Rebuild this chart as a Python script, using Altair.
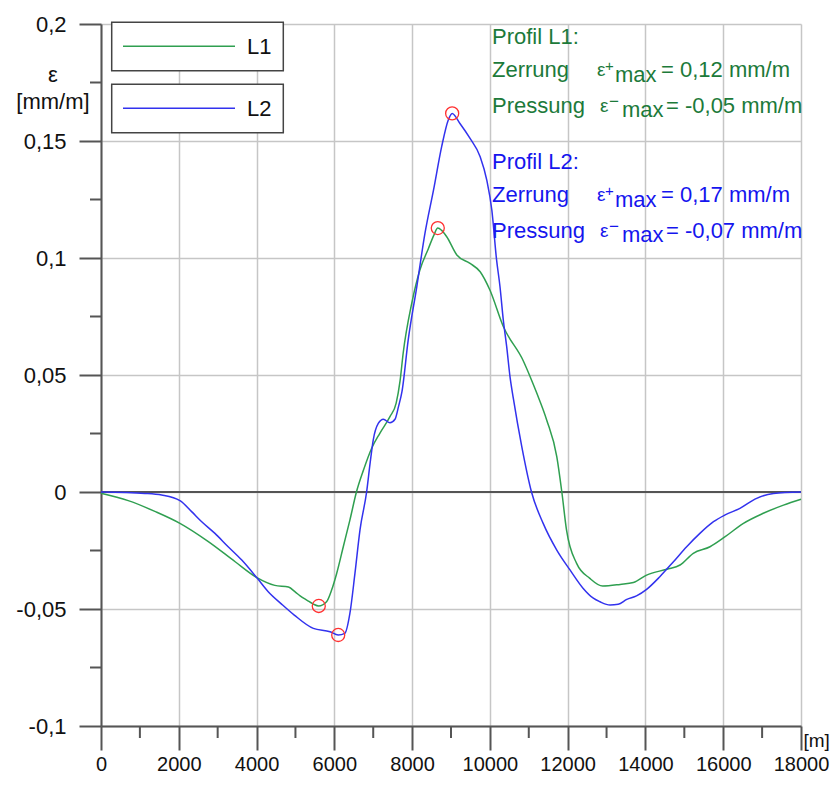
import altair as alt
import pandas as pd

# ---------------- data ----------------
series_names = ["L1", "L2"]

l1_x = [0, 700, 1400, 2030, 2760, 3450, 4020, 4470, 4820, 5000, 5120, 5300, 5460, 5600,
        5800, 5930, 6060, 6230, 6400, 6570, 6750, 6960, 7170, 7430, 7590, 7690, 7770,
        7990, 8200, 8420, 8560, 8660, 8760, 8890, 9150, 9490, 9750, 10000, 10345, 10860,
        11030, 11200, 11460, 11720, 11850, 11970, 12230, 12570, 12900, 13350, 13690,
        14030, 14550, 14890, 15230, 15660, 16050, 16520, 17030, 17550, 18000]
l1_y = [-0.0005, -0.0037, -0.0084, -0.0134, -0.0212, -0.0298, -0.0367, -0.0399, -0.0406,
        -0.0428, -0.0444, -0.0463, -0.0479, -0.0487, -0.0469, -0.0419, -0.0348, -0.0234,
        -0.0120, 0.0001, 0.0094, 0.0187, 0.0251, 0.0322, 0.0380, 0.0475, 0.0593, 0.0806,
        0.0949, 0.1041, 0.1098, 0.1128, 0.1118, 0.1091, 0.1013, 0.0977, 0.0941, 0.0863,
        0.0707, 0.0560, 0.0495, 0.0425, 0.0308, 0.0151, 0.0, -0.0162, -0.0305, -0.0369,
        -0.0402, -0.0395, -0.0387, -0.0355, -0.0330, -0.0312, -0.0262, -0.0234, -0.0191,
        -0.0134, -0.0091, -0.0056, -0.0031]

l2_x = [0, 1130, 1560, 2030, 2330, 2590, 2930, 3270, 3620, 4020, 4300, 4650, 4970, 5460,
        5890, 6100, 6270, 6400, 6530, 6660, 6830, 6920, 7000, 7130, 7260, 7430, 7560, 7650,
        7740, 7900, 8120, 8330, 8550, 8760, 8930, 9030, 9230, 9490, 9750, 9920, 10050,
        10170, 10260, 10345, 10432, 10517, 10603, 10820, 11070, 11370, 11720, 12060, 12400,
        12660, 12830, 13090, 13300, 13520, 13770, 14030, 14370, 14720, 15060, 15400, 15750,
        16050, 16430, 16860, 17290, 18000]
l2_y = [0.0, -0.0006, -0.0013, -0.0037, -0.0084, -0.0127, -0.0177, -0.0234, -0.0291,
        -0.0369, -0.0426, -0.0480, -0.0526, -0.0583, -0.0597, -0.0611, -0.0604, -0.0519,
        -0.0348, -0.0162, 0.0, 0.0123, 0.0222, 0.0293, 0.0311, 0.0296, 0.0311, 0.0365,
        0.0430, 0.0650, 0.0877, 0.1105, 0.1290, 0.1476, 0.1590, 0.1618, 0.1575, 0.1511,
        0.1433, 0.1333, 0.1205, 0.0995, 0.0877, 0.0735, 0.0621, 0.0493, 0.0400, 0.0194,
        0.0, -0.0134, -0.0248, -0.0333, -0.0412, -0.0454, -0.0469, -0.0483, -0.0480,
        -0.0459, -0.0444, -0.0416, -0.0362, -0.0298, -0.0234, -0.0177, -0.0127, -0.0098,
        -0.0070, -0.0027, -0.0006, 0.0]

x_ticks = [0, 2000, 4000, 6000, 8000, 10000, 12000, 14000, 16000, 18000]
x_minor = [1000, 3000, 5000, 7000, 9000, 11000, 13000, 15000, 17000]
y_ticks = [-0.1, -0.05, 0, 0.05, 0.1, 0.15, 0.2]
y_minor = [-0.075, -0.025, 0.025, 0.075, 0.125, 0.175]

zerrung_text = ["0,12", "0,17"]
pressung_text = ["-0,05", "-0,07"]
y_title = ["ε", "[mm/m]"]
x_title = "[m]"

# ---------------- styles ----------------
FONT = "Liberation Sans"
LINE_COLORS = ["#2f9f50", "#3232ee"]
TEXT_COLORS = ["#1c7a3a", "#1515ee"]
AXIS_COLOR = "#555555"
GRID_COLOR = "#c6c6c6"

df = pd.concat([
    pd.DataFrame({"x": l1_x, "y": l1_y, "profil": series_names[0]}),
    pd.DataFrame({"x": l2_x, "y": l2_y, "profil": series_names[1]}),
], ignore_index=True)

ext_rows = []
for name in series_names:
    sub = df[df["profil"] == name]
    ext_rows.append(sub.loc[sub["y"].idxmin()])
    ext_rows.append(sub.loc[sub["y"].idxmax()])
ext = pd.DataFrame(ext_rows)[["x", "y", "profil"]]

xscale = alt.Scale(domain=[0, 18000], nice=False, zero=False)
yscale = alt.Scale(domain=[-0.1, 0.2], nice=False, zero=False)

xaxis = alt.Axis(
    values=x_ticks, format="d", grid=True, gridColor=GRID_COLOR, gridWidth=1.5,
    domainColor=AXIS_COLOR, domainWidth=2, tickColor=AXIS_COLOR, tickWidth=2, tickSize=24,
    labelFont=FONT, labelFontSize=20, labelColor="#111111", labelPadding=20,
    labelBaseline="alphabetic",
    labelFlush=False, labelOverlap=False, labelBound=False,
    title=x_title, titleX=702, titleY=14, titleAlign="left", titleBaseline="middle",
    titleFont=FONT, titleFontSize=19, titleFontWeight="normal", titleColor="#111111",
)
yaxis = alt.Axis(
    values=y_ticks, grid=True, gridColor=GRID_COLOR, gridWidth=1.5,
    labelExpr="(datum.value < 0 ? '-' : '') + replace(format(abs(datum.value), '.2~f'), '.', ',')",
    domainColor=AXIS_COLOR, domainWidth=2, tickColor=AXIS_COLOR, tickWidth=2, tickSize=22,
    labelFont=FONT, labelFontSize=22, labelColor="#111111", labelPadding=13,
    labelFlush=False, labelOverlap=False, labelBound=False, title="",
)

one = pd.DataFrame({"a": [0]})

zero_rule = alt.Chart(pd.DataFrame({"y": [0]})).mark_rule(color=AXIS_COLOR, strokeWidth=2).encode(
    y=alt.Y("y:Q", scale=yscale, axis=yaxis)
)

x_minor_ticks = alt.Chart(pd.DataFrame({"x": x_minor})).mark_rule(color=AXIS_COLOR, strokeWidth=2).encode(
    x=alt.X("x:Q", scale=xscale, axis=xaxis), y=alt.value(702), y2=alt.value(714)
)
y_minor_ticks = alt.Chart(pd.DataFrame({"y": y_minor})).mark_rule(color=AXIS_COLOR, strokeWidth=2).encode(
    y=alt.Y("y:Q", scale=yscale, axis=yaxis), x=alt.value(-11), x2=alt.value(0)
)

lines = alt.Chart(df).mark_line(interpolate="monotone", strokeWidth=1.5).encode(
    x=alt.X("x:Q", scale=xscale, axis=xaxis),
    y=alt.Y("y:Q", scale=yscale, axis=yaxis),
    color=alt.Color("profil:N", scale=alt.Scale(domain=series_names, range=LINE_COLORS), legend=None),
)

circles = alt.Chart(ext).mark_point(shape="circle", size=170, filled=False, color="#ff3030",
                                    strokeWidth=1.3, opacity=1).encode(
    x=alt.X("x:Q", scale=xscale, axis=xaxis),
    y=alt.Y("y:Q", scale=yscale, axis=yaxis),
)


def txt(s, x, y, size, color, align="left", baseline="alphabetic"):
    return alt.Chart(one).mark_text(font=FONT, fontSize=size, color=color, align=align,
                                    baseline=baseline).encode(
        x=alt.value(x), y=alt.value(y), text=alt.value(s))


layers = [zero_rule, x_minor_ticks, y_minor_ticks, lines, circles]

# legend boxes
for i, name in enumerate(series_names):
    top = -1.7 + 62 * i
    layers.append(alt.Chart(one).mark_rect(fill="white", stroke="#444444", strokeWidth=1.5).encode(
        x=alt.value(10.7), x2=alt.value(182.3), y=alt.value(top), y2=alt.value(top + 48.5)))
    layers.append(alt.Chart(one).mark_rule(color=LINE_COLORS[i], strokeWidth=1.5).encode(
        x=alt.value(22), x2=alt.value(134), y=alt.value(top + 24)))
    layers.append(txt(name, 146, top + 24.5, 22, "#111111", baseline="middle"))

# y axis title
layers.append(txt(y_title[0], -48, 58, 22, "#111111", align="center"))
layers.append(txt(y_title[1], -48, 85, 22, "#111111", align="center"))

# annotations
for k, name in enumerate(series_names):
    off = 125 * k
    c = TEXT_COLORS[k]
    layers.append(txt(f"Profil {name}:", 391, 20 + off, 22, c))
    layers.append(txt("Zerrung", 391, 53 + off, 22, c))
    layers.append(txt("ε", 496, 52 + off, 19, c))
    layers.append(txt("+", 504, 47 + off, 15, c))
    layers.append(txt("max", 514, 58 + off, 22, c))
    layers.append(txt(f"= {zerrung_text[k]} mm/m", 560, 53 + off, 22, c))
    layers.append(txt("Pressung", 391, 89 + off, 22, c))
    layers.append(txt("ε", 499, 88 + off, 19, c))
    layers.append(txt("−", 508, 83 + off, 17, c))
    layers.append(txt("max", 521, 93 + off, 22, c))
    layers.append(txt(f"= {pressung_text[k]} mm/m", 565, 89 + off, 22, c))

chart = alt.layer(*layers).properties(
    width=700, height=702,
    autosize=alt.AutoSizeParams(type="none"),
    padding={"left": 93, "top": 16, "right": 29, "bottom": 51},
    background="white",
).configure_view(strokeWidth=0)

chart.save("out.html", embed_options={"renderer": "svg", "actions": False})
